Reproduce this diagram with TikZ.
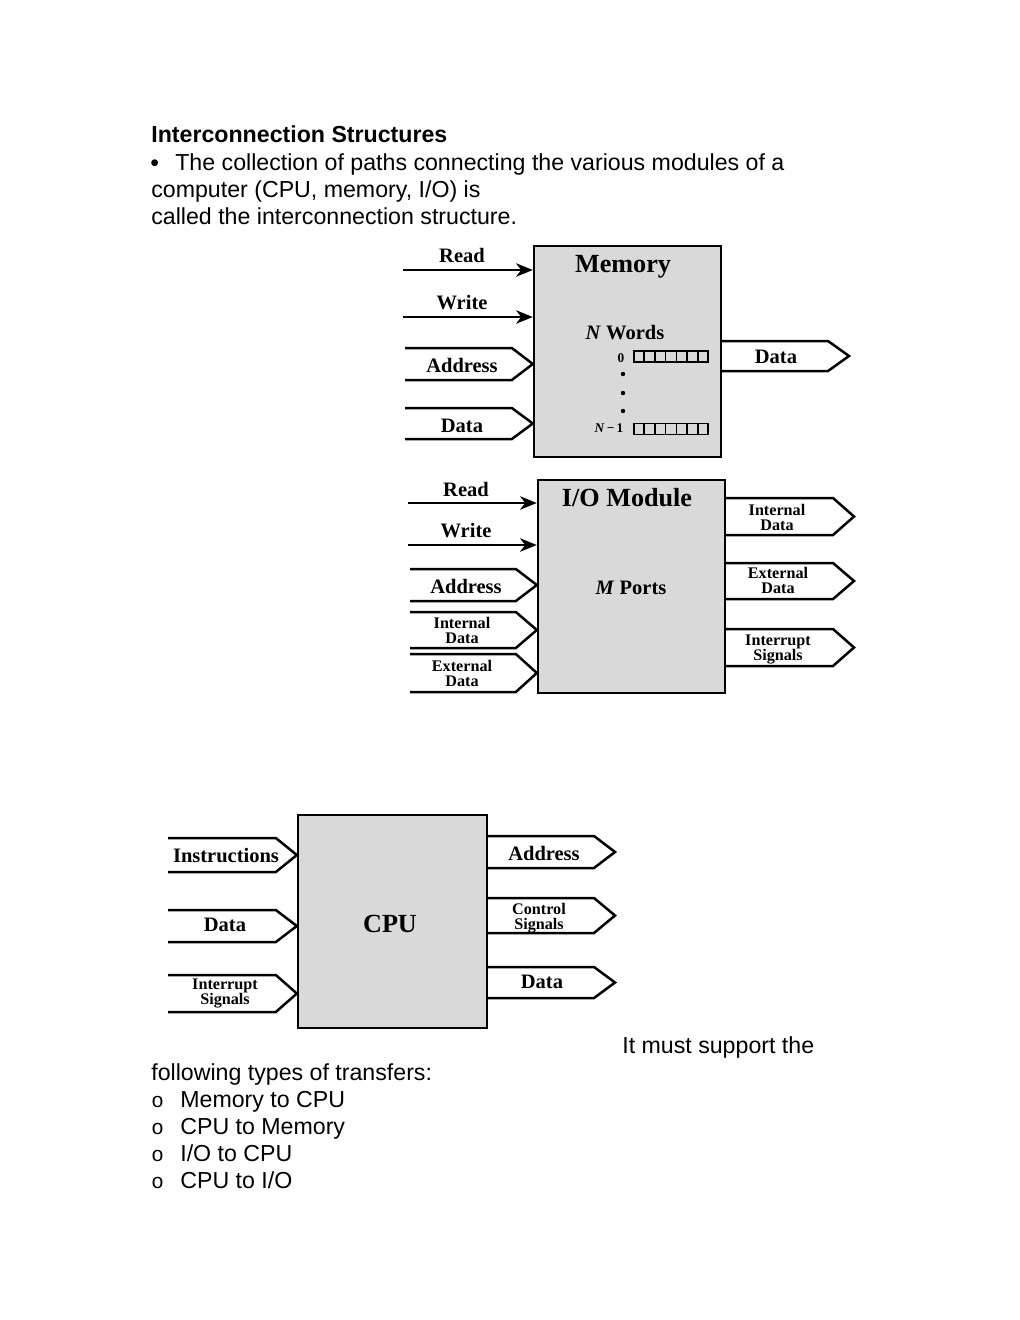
\documentclass[tikz,border=0pt]{standalone}
\usepackage{fontspec}
\setmainfont{Liberation Sans}
\newfontfamily\timesfont{Liberation Serif}
\newfontfamily\courfont{Liberation Mono}
\usetikzlibrary{calc, arrows.meta, positioning}

% bus into a block: free end, block, half height
\newcommand{\busin}[3]{\draw[bus] ($(#1)+(0,-#3)$) -- ($(#1 -| #2.west)+(-21,-#3)$) -- (#1 -| #2.west) -- ($(#1 -| #2.west)+(-21,#3)$) -- ($(#1)+(0,#3)$);}
% bus out of a block: free tip, block, half height
\newcommand{\busout}[3]{\draw[bus] ($(#2.east |- #1)+(0,-#3)$) -- ($(#1)+(-21,-#3)$) -- (#1) -- ($(#1)+(-21,#3)$) -- ($(#2.east |- #1)+(0,#3)$);}

\begin{document}
\begin{tikzpicture}[x=0.6pt, y=-0.6pt]
            % Styles
            \tikzstyle{block} = [rectangle, draw, line width=1.4pt, fill=black!15, inner sep=0pt]
            \tikzstyle{txt} = [anchor=base west, inner sep=0pt, font=\fontsize{13.9}{16}\selectfont]
            \tikzstyle{lbl} = [inner sep=0pt, align=center, font=\timesfont\bfseries\fontsize{12.3}{13}\selectfont]
            \tikzstyle{small} = [lbl, font=\timesfont\bfseries\fontsize{9.7}{9}\selectfont]
            \tikzstyle{title} = [lbl, anchor=base, font=\timesfont\bfseries\fontsize{15.7}{17}\selectfont]
            \tikzstyle{sig} = [line width=1.4pt, -{Stealth[length=10pt, width=8pt, inset=3pt]}]
            \tikzstyle{bus} = [line width=1.5pt, line join=miter]
            \tikzstyle{word} = [rectangle, draw, line width=0.8pt, inner sep=0pt, minimum width=44.4pt, minimum height=6.6pt]

            \useasboundingbox (0,0) rectangle (1020,1320);

            % Text above
            \node[txt, font=\bfseries\fontsize{13.9}{16}\selectfont] (head) at (151,142) {Interconnection Structures};
            \node[txt] (line1) at (150,170) {\makebox[15pt][l]{\raisebox{-0.6pt}{\fontsize{15}{15}\selectfont\textbullet}}The collection of paths connecting the various modules of a};
            \node[txt] (line2) at (151,197) {computer (CPU, memory, I/O) is};
            \node[txt] (line3) at (151,224) {called the interconnection structure.};

            % Memory
            \node[block, minimum width=112.2pt, minimum height=126.6pt] (memory) at (627.5,351.5) {};
            \node[title] (mem_title) at (623,272) {Memory};
            \node[lbl, anchor=base] (mem_words) at (625,339) {\textit{N} Words};
            \node[word] (word0) at (671,356.5) {};
            \node[word] (wordN) at (671,429) {};
            \foreach \i in {1,...,6} {
                \draw[line width=0.8pt] ($(word0.north west)!\i/7!(word0.north east)$) -- ($(word0.south west)!\i/7!(word0.south east)$);
                \draw[line width=0.8pt] ($(wordN.north west)!\i/7!(wordN.north east)$) -- ($(wordN.south west)!\i/7!(wordN.south east)$);
            }
            \node[lbl, anchor=base, font=\timesfont\bfseries\fontsize{8}{8}\selectfont] (idx0) at (621,362) {0};
            \node[lbl, anchor=base, font=\timesfont\bfseries\fontsize{8}{8}\selectfont] (idxN) at (609,432) {\textit{N}\,−\,1};
            \foreach \y in {374,393,411} \fill (623,\y) circle (2.2);

            \coordinate (m_read) at (403,270);
            \coordinate (m_write) at (403,317);
            \coordinate (m_addr) at (405,364);
            \coordinate (m_data) at (405,423.5);
            \coordinate (m_out) at (849,356);
            \draw[sig] (m_read) -- (m_read -| memory.west);
            \draw[sig] (m_write) -- (m_write -| memory.west);
            \busin{m_addr}{memory}{16}
            \busin{m_data}{memory}{15.5}
            \busout{m_out}{memory}{15}
            \node[lbl, anchor=base] (t_mread) at (462,262) {Read};
            \node[lbl, anchor=base] (t_mwrite) at (462,309) {Write};
            \node[lbl, anchor=base] (t_maddr) at (462,372) {Address};
            \node[lbl, anchor=base] (t_mdata) at (462,432) {Data};
            \node[lbl, anchor=base] (t_mout) at (776,363) {Data};

            % I/O module
            \node[block, minimum width=112.2pt, minimum height=127.8pt] (io) at (631.5,586.5) {};
            \node[title] (io_title) at (627,506) {I/O Module};
            \node[lbl, anchor=base] (io_ports) at (631,594) {\textit{M} Ports};

            \coordinate (i_read) at (408,503);
            \coordinate (i_write) at (408,545);
            \coordinate (i_addr) at (410,585);
            \coordinate (i_int) at (410,630);
            \coordinate (i_ext) at (410,673);
            \coordinate (o_int) at (854,516.5);
            \coordinate (o_ext) at (854,581);
            \coordinate (o_irq) at (854,647.5);
            \draw[sig] (i_read) -- (i_read -| io.west);
            \draw[sig] (i_write) -- (i_write -| io.west);
            \busin{i_addr}{io}{16}
            \busin{i_int}{io}{18}
            \busin{i_ext}{io}{19}
            \busout{o_int}{io}{18.5}
            \busout{o_ext}{io}{18}
            \busout{o_irq}{io}{18.5}
            \node[lbl, anchor=base] (t_iread) at (466,496) {Read};
            \node[lbl, anchor=base] (t_iwrite) at (466,537) {Write};
            \node[lbl, anchor=base] (t_iaddr) at (466,593) {Address};
            \node[small] (t_iint) at (462,630.5) {Internal\\Data};
            \node[small] (t_iext) at (462,673.5) {External\\Data};
            \node[small] (t_oint) at (777,517.5) {Internal\\Data};
            \node[small] (t_oext) at (778,580.5) {External\\Data};
            \node[small] (t_oirq) at (778,649) {Interrupt\\Signals};

            % CPU
            \node[block, minimum width=113.4pt, minimum height=127.8pt] (cpu) at (392.5,921.5) {};
            \node[title] (cpu_title) at (390,932) {CPU};

            \coordinate (c_instr) at (168,855);
            \coordinate (c_data) at (168,926);
            \coordinate (c_irq) at (168,993.5);
            \coordinate (c_addr) at (615,852);
            \coordinate (c_ctrl) at (615,915.5);
            \coordinate (c_out) at (615,982.5);
            \busin{c_instr}{cpu}{17}
            \busin{c_data}{cpu}{16}
            \busin{c_irq}{cpu}{18.5}
            \busout{c_addr}{cpu}{16}
            \busout{c_ctrl}{cpu}{17.5}
            \busout{c_out}{cpu}{15.5}
            \node[lbl, anchor=base] (t_cinstr) at (226,862) {Instructions};
            \node[lbl, anchor=base] (t_cdata) at (225,931) {Data};
            \node[small] (t_cirq) at (225,993) {Interrupt\\Signals};
            \node[lbl, anchor=base] (t_caddr) at (544,860) {Address};
            \node[small] (t_cctrl) at (539,918) {Control\\Signals};
            \node[lbl, anchor=base] (t_cout) at (542,988) {Data};

            % Text below
            \node[txt] (line4) at (622,1053) {It must support the};
            \node[txt] (line5) at (151,1080) {following types of transfers:};
            \node[txt] (item1) at (151,1107) {\makebox[17.4pt][l]{\courfont\fontsize{12.5}{12}\selectfont o}Memory to CPU};
            \node[txt] (item2) at (151,1134) {\makebox[17.4pt][l]{\courfont\fontsize{12.5}{12}\selectfont o}CPU to Memory};
            \node[txt] (item3) at (151,1161) {\makebox[17.4pt][l]{\courfont\fontsize{12.5}{12}\selectfont o}I/O to CPU};
            \node[txt] (item4) at (151,1188) {\makebox[17.4pt][l]{\courfont\fontsize{12.5}{12}\selectfont o}CPU to I/O};
        \end{tikzpicture}
\end{document}
